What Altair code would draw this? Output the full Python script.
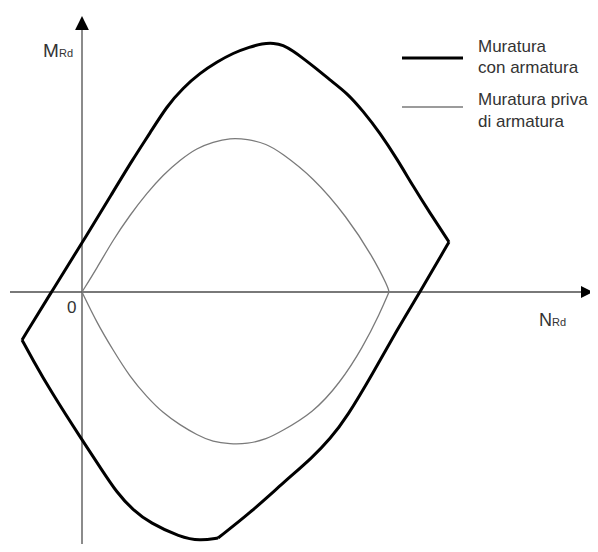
import altair as alt
import pandas as pd

# Outer domain (muratura con armatura), drawn as three smooth arcs meeting at corners
outer_top_N = [-60, -30, 0, 31, 51, 68, 85, 101, 118, 135, 151, 168, 180, 192, 201, 211, 222, 231, 248,
               265, 281, 298, 315, 331, 348, 367]
outer_top_M = [-48, 1, 49, 100, 133, 159, 186, 204, 219, 230, 239, 245, 248.5, 249, 247, 241, 233, 226,
               212, 199, 181, 159, 133, 106, 79, 50]
outer_right_N = [367, 338, 315, 291, 265, 248, 231, 201, 168, 136]
outer_right_M = [50, 0, -38, -81, -125, -147, -165, -191, -221, -246]
outer_bottom_N = [136, 118, 98, 68, 51, 35, 18, 0, -32, -49, -60]
outer_bottom_M = [-246, -249, -245, -231, -218, -201, -175, -148, -98, -68, -48]

# Inner domain (muratura priva di armatura)
inner_top_N = [0, 15, 31, 48, 65, 81, 98, 115, 131, 148, 165, 185, 198, 231, 265, 291, 306, 307]
inner_top_M = [0, 24, 52, 77, 99, 117, 132, 144, 150, 154, 153, 148, 140, 115, 75, 35, 5, 0]
inner_bot_N = [307, 298, 281, 258, 231, 198, 185, 165, 148, 131, 115, 98, 81, 65, 48, 31, 15, 0]
inner_bot_M = [0, -21, -55, -91, -121, -140, -147, -152, -152, -150, -143, -133, -121, -105, -85, -58, -31, 0]

legend_labels = ["Muratura", "con armatura", "Muratura priva", "di armatura"]

XD = [-74, 508]
YD = [-252, 284]
xs = alt.Scale(domain=XD, nice=False, zero=False)
ys = alt.Scale(domain=YD, nice=False, zero=False)


def seg_frame(parts):
    rows = []
    for s, (ns, ms) in enumerate(parts):
        for i, (n, m) in enumerate(zip(ns, ms)):
            rows.append({"N": n, "M": m, "seg": s, "i": i})
    return pd.DataFrame(rows)


outer = seg_frame([(outer_top_N, outer_top_M), (outer_right_N, outer_right_M),
                   (outer_bottom_N, outer_bottom_M)])
inner = seg_frame([(inner_top_N, inner_top_M), (inner_bot_N, inner_bot_M)])


def X(f="N"):
    return alt.X(f"{f}:Q", scale=xs, axis=None)


def Y(f="M"):
    return alt.Y(f"{f}:Q", scale=ys, axis=None)


axes_df = pd.DataFrame({"x1": [-72, 0], "x2": [500, 0], "y1": [0, -252], "y2": [0, 263]})
axes = alt.Chart(axes_df).mark_rule(color="#4d4d4d", strokeWidth=1.3).encode(
    x=X("x1"), x2="x2:Q", y=Y("y1"), y2="y2:Q")

up_arrow = alt.Chart(pd.DataFrame({"N": [0], "M": [269]})).mark_point(
    shape="M0,-1L1,1L-1,1Z", filled=True, size=190, color="#000000", opacity=1).encode(x=X(), y=Y())
right_arrow = alt.Chart(pd.DataFrame({"N": [505], "M": [0]})).mark_point(
    shape="M1,0L-1,1L-1,-1Z", filled=True, size=144, color="#000000", opacity=1).encode(x=X(), y=Y())

outer_line = alt.Chart(outer).mark_line(color="#000000", strokeWidth=3, strokeJoin="miter",
                                        interpolate="basis").encode(
    x=X(), y=Y(), detail="seg:N", order="i:Q")
inner_line = alt.Chart(inner).mark_line(color="#7a7a7a", strokeWidth=1.3, interpolate="basis").encode(
    x=X(), y=Y(), detail="seg:N", order="i:Q")

leg_df = pd.DataFrame({"x1": [320, 320], "x2": [381, 381], "y": [234, 185]})
leg_thick = alt.Chart(leg_df.iloc[[0]]).mark_rule(color="#000000", strokeWidth=3).encode(
    x=X("x1"), x2="x2:Q", y=Y("y"))
leg_thin = alt.Chart(leg_df.iloc[[1]]).mark_rule(color="#7a7a7a", strokeWidth=1.3).encode(
    x=X("x1"), x2="x2:Q", y=Y("y"))

texts = pd.DataFrame({
    "N": [396, 396, 396, 396, -39, -23, 457, 470, -15],
    "M": [240, 219, 187, 165, 235, 235, -34, -34, -21],
    "t": legend_labels + ["M", "Rd", "N", "Rd", "0"],
    "fs": [17, 17, 17, 17, 19, 11, 18, 11, 17],
})
text_layer = alt.Chart(texts).mark_text(
    align="left", baseline="alphabetic", font="Liberation Sans", color="#333333").encode(
    x=X(), y=Y(), text="t:N", size=alt.Size("fs:Q", scale=None))

chart = alt.layer(axes, inner_line, outer_line, up_arrow, right_arrow, leg_thick, leg_thin,
                  text_layer).properties(
    width=582, height=536, padding=0, autosize="none", background="#ffffff"
).configure_view(stroke=None)

chart.save("out.html", embed_options={"renderer": "svg", "actions": False})
